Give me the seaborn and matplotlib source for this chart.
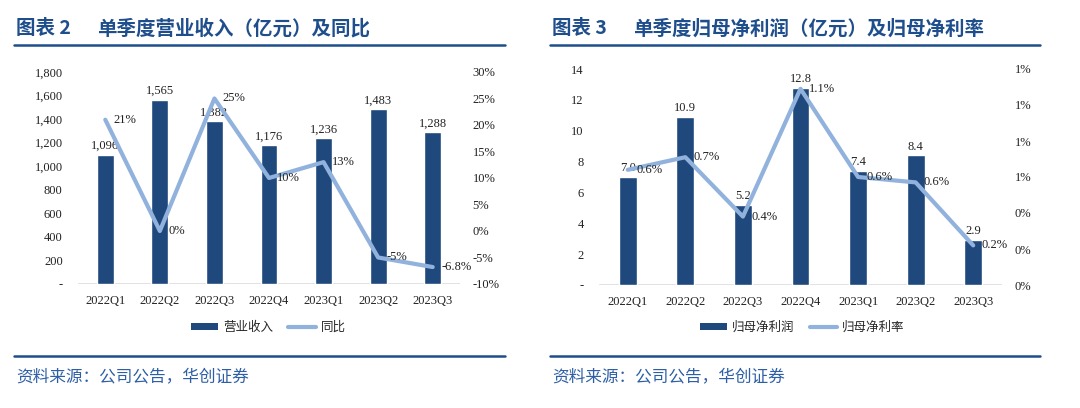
import numpy as np
import pandas as pd
import seaborn as sns
import matplotlib
matplotlib.use('Agg')
import matplotlib.pyplot as plt
from matplotlib.patches import Patch
from matplotlib.lines import Line2D
from matplotlib.ticker import FuncFormatter, MultipleLocator

sns.set_theme(style="white")
plt.rcParams['font.family'] = ['Liberation Serif', 'Noto Sans CJK SC', 'DejaVu Sans']

# data
QUARTERS = ['2022Q1', '2022Q2', '2022Q3', '2022Q4', '2023Q1', '2023Q2', '2023Q3']
REVENUE = [1096, 1565, 1382, 1176, 1236, 1483, 1288]          # 亿元
REVENUE_YOY = [21, 0, 25, 10, 13, -5, -6.8]                     # %
PROFIT = [7.0, 10.9, 5.2, 12.8, 7.4, 8.4, 2.9]                  # 亿元
PROFIT_MARGIN = [0.64, 0.71, 0.38, 1.09, 0.60, 0.57, 0.22]      # %

BAR_COLOR = '#1F487C'
LINE_COLOR = '#91B2DC'
TITLE_COLOR = '#1F4E8C'
TEXT_COLOR = '#222222'
SERIF = ['Liberation Serif', 'DejaVu Serif']
CJK = ['Noto Sans CJK SC', 'DejaVu Sans']

W, H = 1080, 408


def fx(px):
    return px / W


def fy(py):
    return 1 - py / H


def draw_panel(fig, box, bars, line, bar_name, line_name,
               ylim, ystep, yfmt, y2lim, y2step, bar_fmt, line_fmt, legend_x):
    x0, y0, x1, y1 = box
    ax = fig.add_axes([fx(x0), fy(y1), fx(x1 - x0), (y1 - y0) / H])
    df = pd.DataFrame({'quarter': QUARTERS, 'bar': bars, 'line': line,
                       'pos': np.arange(len(QUARTERS))})

    sns.barplot(data=df, x='quarter', y='bar', color=BAR_COLOR, saturation=1,
                width=0.31, ax=ax)
    ax.bar_label(ax.containers[0], labels=[bar_fmt(v) for v in bars], padding=2,
                 fontsize=9, family=SERIF, color=TEXT_COLOR)
    ax.axhline(0, color='#d9d9d9', lw=1.8, zorder=0)
    ax.set_ylim(*ylim)
    ax.yaxis.set_major_locator(MultipleLocator(ystep))
    ax.yaxis.set_major_formatter(FuncFormatter(yfmt))
    ax.set_xlabel('')
    ax.set_ylabel('')
    ax.tick_params(axis='y', length=0, pad=11, labelsize=9, labelcolor=TEXT_COLOR)
    ax.tick_params(axis='x', length=0, pad=8, labelsize=9, labelcolor=TEXT_COLOR)
    sns.despine(ax=ax, left=True, bottom=True)

    ax2 = ax.twinx()
    sns.lineplot(data=df, x='pos', y='line', color=LINE_COLOR, linewidth=3, ax=ax2)
    for xp, yv in zip(df['pos'], df['line']):
        ax2.annotate(line_fmt(yv), (xp, yv), xytext=(6, 0), textcoords='offset points',
                     ha='left', va='center', fontsize=9, family=SERIF, color=TEXT_COLOR)
    ax2.set_ylim(*y2lim)
    ax2.yaxis.set_major_locator(MultipleLocator(y2step))
    ax2.yaxis.set_major_formatter(FuncFormatter(lambda v, p: f'{v:.0f}%'))
    ax2.set_ylabel('')
    ax2.tick_params(axis='y', length=0, pad=9, labelsize=9, labelcolor=TEXT_COLOR)
    for s in ax2.spines.values():
        s.set_visible(False)
    ax.set_xlim(-0.5, len(QUARTERS) - 0.5)

    handles = [Patch(facecolor=BAR_COLOR, edgecolor='none'),
               Line2D([0], [0], color=LINE_COLOR, lw=3)]
    fig.legend(handles, [bar_name, line_name], loc='center',
               bbox_to_anchor=(fx(legend_x), fy(327)), ncol=2, frameon=False,
               prop={'family': CJK, 'size': 9}, handlelength=2.2, handleheight=0.5,
               columnspacing=1.2, handletextpad=0.4)


def draw_frame(fig, left, right, fig_no, title):
    fig.text(fx(left + 2), fy(29), f'图表 {fig_no}', fontsize=14, weight='bold',
             color=TITLE_COLOR, va='center', ha='left', family=CJK)
    fig.text(fx(left + 83), fy(29), title, fontsize=14, weight='bold',
             color=TITLE_COLOR, va='center', ha='left', family=CJK)
    fig.add_artist(Line2D([fx(left), fx(right)], [fy(45)] * 2, color=TITLE_COLOR, lw=1.8))
    fig.add_artist(Line2D([fx(left), fx(right)], [fy(356)] * 2, color=TITLE_COLOR, lw=1.8))
    fig.text(fx(left + 2), fy(377), '资料来源：公司公告，华创证券', fontsize=12,
             style='italic', color='#2E5FA6', va='center', ha='left', family=CJK)


fig = plt.figure(figsize=(W / 100, H / 100), dpi=100)
fig.patch.set_facecolor('white')

draw_frame(fig, 14, 505, 2, '单季度营业收入（亿元）及同比')
draw_panel(fig, (78, 72, 460, 284), REVENUE, REVENUE_YOY, '营业收入', '同比',
           (0, 1800), 200, lambda v, p: '-' if v == 0 else f'{v:,.0f}',
           (-10, 30), 5, lambda v: f'{v:,.0f}', lambda v: f'{v:g}%', 268)

draw_frame(fig, 550, 1040, 3, '单季度归母净利润（亿元）及归母净利率')
draw_panel(fig, (599, 69, 1002, 285), PROFIT, PROFIT_MARGIN, '归母净利润', '归母净利率',
           (0, 14), 2, lambda v, p: '-' if v == 0 else f'{v:.0f}',
           (0, 1.2), 0.2, lambda v: f'{v:.1f}', lambda v: f'{v:.1f}%', 802)

fig.savefig('out.png', dpi=100)
